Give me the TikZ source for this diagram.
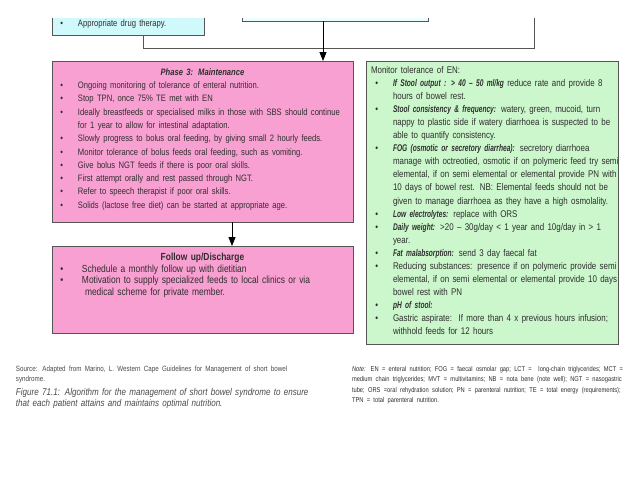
\documentclass[tikz,border=0pt]{standalone}
\usepackage{fontspec}
\setmainfont{Liberation Sans}[FakeStretch=0.82]
\newfontfamily\bifont{Liberation Sans}[FakeStretch=0.68]
\usetikzlibrary{arrows.meta}
\definecolor{pinkc}{HTML}{F9A0D2}
\definecolor{greenc}{HTML}{CCF7CC}
\definecolor{cyanc}{HTML}{CFF9FB}
\definecolor{edge}{HTML}{555555}
\definecolor{ink}{HTML}{2E2E2E}
\definecolor{grayink}{HTML}{4A4A4A}
\newlength\bo
\newlength\bw
\newcommand\bl[1]{\hbox{\hskip\bo\hbox to\bw{\textbullet\hss}#1}}
\newcommand\cl[1]{\hbox{\hskip\bo\hskip\bw #1}}
\newcommand\bi[1]{{\bifont\bfseries\itshape #1}}
\newcommand\fpink{\fontsize{9.3}{13.3}\selectfont}
\newcommand\fgreen{\fontsize{9.7}{13.05}\selectfont}
\newcommand\ffu{\fontsize{10.3}{11.6}\selectfont}
\begin{document}
\begin{tikzpicture}[x=1pt,y=-1pt,
  box/.style={draw=edge, line width=0.9pt, inner sep=0pt, outer sep=0pt, anchor=north west},
  txt/.style={inner sep=0pt, outer sep=0pt, anchor=north west, text=ink},
  conn/.style={draw=edge, line width=0.9pt},
  arr/.style={draw=black, line width=0.9pt, -{Triangle[length=9pt,width=7pt]}}
]
\useasboundingbox[fill=white] (0,0) rectangle (638,479);

% top boxes (cut off)
\node[box, draw=none, fill=cyanc, minimum width=152pt, minimum height=17pt] (cy) at (52,18) {};
\draw[conn] (cy.north west) -- (cy.south west) -- (cy.south east) -- (cy.north east);
\node[box, draw=none, fill=cyanc!40, minimum width=186pt, minimum height=3pt] (mid) at (242,18) {};
\draw[conn] (mid.north west) -- (mid.south west) -- (mid.south east) -- (mid.north east);
\node[txt, text width=150pt] (cyt) at (52,19.5) {\setlength\bo{8.3pt}\setlength\bw{17.7pt}\fpink
\vtop{\bl{Appropriate drug therapy.}}};

% main boxes
\node[box, fill=pinkc, minimum width=301pt, minimum height=161pt] (p3) at (52,61) {};
\node[box, fill=pinkc, minimum width=301pt, minimum height=87pt] (fu) at (52,246) {};
\node[box, fill=greenc, minimum width=252pt, minimum height=283pt] (gr) at (366,61) {};

% connectors
\coordinate (j1) at (143,48);
\coordinate (j2) at (534,48);
\coordinate (rt) at (534,18);
\draw[conn] (cy.south -| j1) -- (j1) -- (j2) -- (rt);
\coordinate (a1) at (323,0);
\draw[arr] (mid.south -| a1) -- (p3.north -| a1);
\coordinate (a2) at (232,0);
\draw[arr] (p3.south -| a2) -- (fu.north -| a2);

% phase 3 text
\node[txt, text width=301pt] (p3t) at (52,68.5) {\setlength\bo{8.3pt}\setlength\bw{17.7pt}\fpink
\vtop{
\hbox to\hsize{\hss\textbf{\textit{Phase 3: Maintenance}}\hss}
\bl{Ongoing monitoring of tolerance of enteral nutrition.}
\bl{Stop TPN, once 75\% TE met with EN}
\bl{Ideally breastfeeds or specialised milks in those with SBS should continue}
\cl{for 1 year to allow for intestinal adaptation.}
\bl{Slowly progress to bolus oral feeding, by giving small 2 hourly feeds.}
\bl{Monitor tolerance of bolus feeds oral feeding, such as vomiting.}
\bl{Give bolus NGT feeds if there is poor oral skills.}
\bl{First attempt orally and rest passed through NGT.}
\bl{Refer to speech therapist if poor oral skills.}
\bl{Solids (lactose free diet) can be started at appropriate age.}}};

% follow up text
\node[txt, text width=301pt] (fut) at (52,253) {\setlength\bo{8.3pt}\setlength\bw{21.7pt}\ffu
\vtop{
\hbox to\hsize{\hss\textbf{Follow up/Discharge}\hss}
\bl{Schedule a monthly follow up with dietitian}
\bl{Motivation to supply specialized feeds to local clinics or via}
\cl{\hskip3pt medical scheme for private member.}}};

% green text
\node[txt, text width=248pt] (grt) at (371,66.5) {\setlength\bo{4.3pt}\setlength\bw{17.7pt}\fgreen
\vtop{
\hbox{Monitor tolerance of EN:}
\bl{\bi{If Stool output : > 40 – 50 ml/kg} reduce rate and provide 8}
\cl{hours of bowel rest.}
\bl{\bi{Stool consistency \& frequency:} watery, green, mucoid, turn}
\cl{nappy to plastic side if watery diarrhoea is suspected to be}
\cl{able to quantify consistency.}
\bl{\bi{FOG (osmotic or secretory diarrhea):} secretory diarrhoea}
\cl{manage with octreotied, osmotic if on polymeric feed try semi}
\cl{elemental, if on semi elemental or elemental provide PN with}
\cl{10 days of bowel rest. NB: Elemental feeds should not be}
\cl{given to manage diarrhoea as they have a high osmolality.}
\bl{\bi{Low electrolytes:} replace with ORS}
\bl{\bi{Daily weight:} >20 – 30g/day < 1 year and 10g/day in > 1}
\cl{year.}
\bl{\bi{Fat malabsorption:} send 3 day faecal fat}
\bl{Reducing substances: presence if on polymeric provide semi}
\cl{elemental, if on semi elemental or elemental provide 10 days}
\cl{bowel rest with PN}
\bl{\bi{pH of stool:}}
\bl{Gastric aspirate:\ \ If more than 4 x previous hours infusion;}
\cl{withhold feeds for 12 hours}}};

% bottom captions
\node[txt, text=grayink, text width=300pt] (src) at (16,366) {\fontsize{7.6}{10.3}\selectfont
\vtop{
\hbox{Source: Adapted from Marino, L. Western Cape Guidelines for Management of short bowel}
\hbox{syndrome.}}};
\node[txt, text=grayink, text width=320pt] (fig) at (16,388.5) {\fontsize{9.8}{11}\selectfont\itshape
\vtop{
\hbox{Figure 71.1: Algorithm for the management of short bowel syndrome to ensure}
\hbox{that each patient attains and maintains optimal nutrition.}}};
\node[txt, text width=285pt] (note) at (352,366.5) {\fontsize{7}{10.3}\selectfont
\vtop{
\hbox{\textit{Note:} EN = enteral nutrition; FOG = faecal osmolar gap; LCT =\ \ long-chain triglycerides; MCT =}
\hbox{medium chain triglycerides; MVT = multivitamins; NB = nota bene (note well); NGT = nasogastric}
\hbox{tube; ORS =oral rehydration solution; PN = parenteral nutrition; TE = total energy (requirements);}
\hbox{TPN = total parenteral nutrition.}}};
\end{tikzpicture}
\end{document}
